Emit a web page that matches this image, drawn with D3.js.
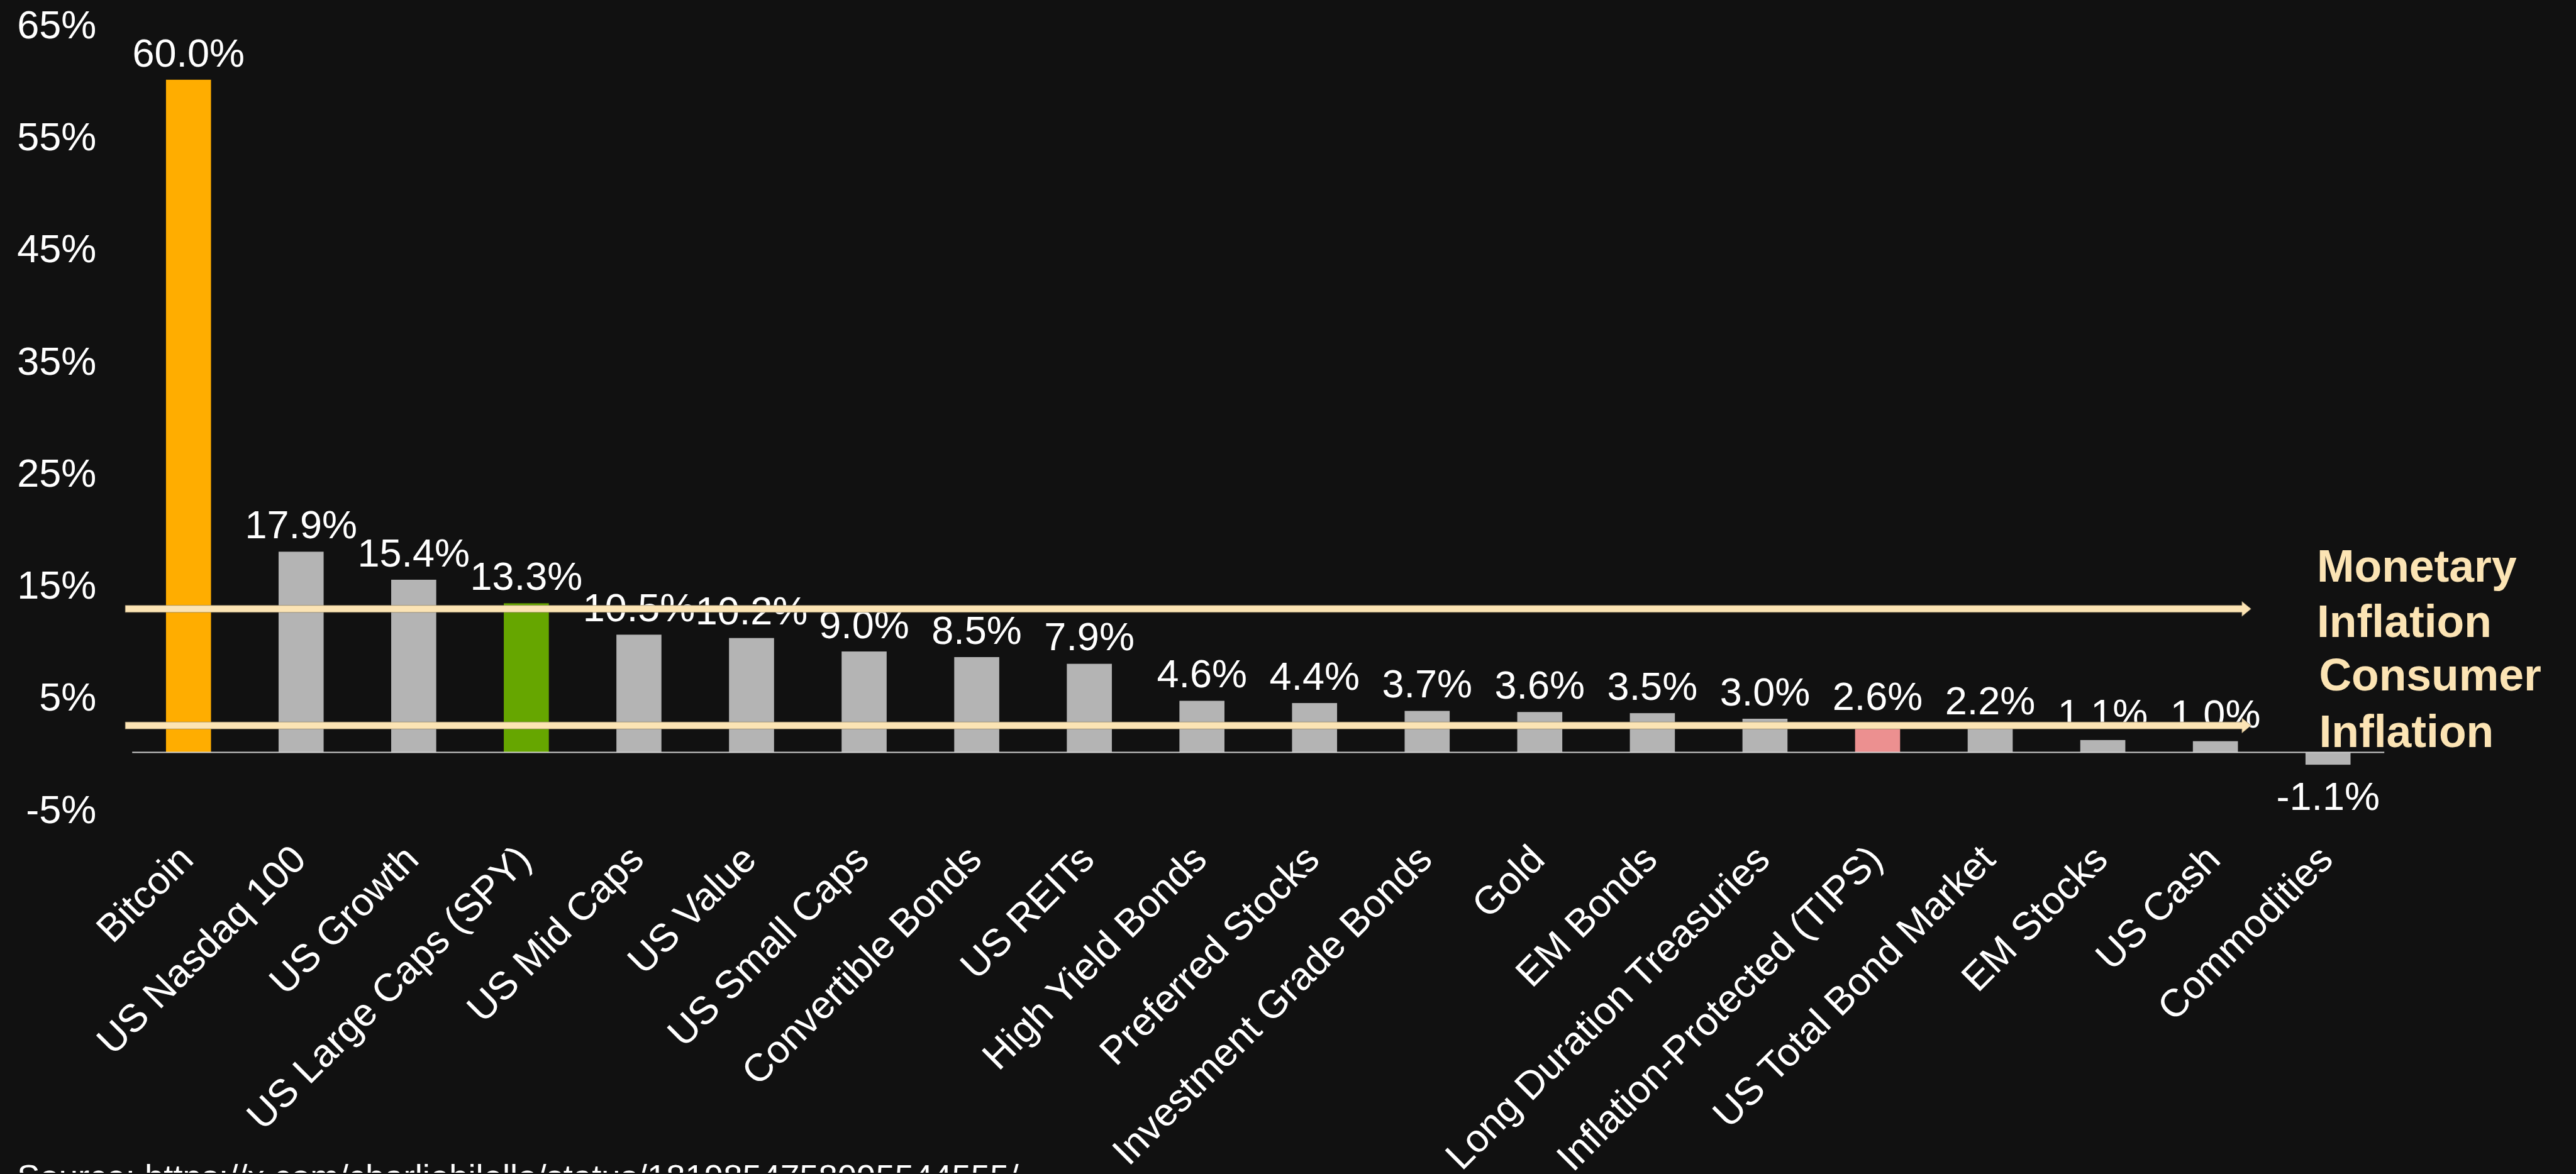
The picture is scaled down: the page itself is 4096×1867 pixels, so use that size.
<!DOCTYPE html>
<html>
<head>
<meta charset="utf-8">
<script src="https://cdn.jsdelivr.net/npm/d3@7"></script>
<style>
  html, body { margin: 0; padding: 0; background: #111111; }
  svg { display: block; }
</style>
</head>
<body>
<div id="chart"></div>
<script>
// ### Data ###
var categories = ["Bitcoin", "US Nasdaq 100", "US Growth", "US Large Caps (SPY)", "US Mid Caps",
                  "US Value", "US Small Caps", "Convertible Bonds", "US REITs", "High Yield Bonds",
                  "Preferred Stocks", "Investment Grade Bonds", "Gold", "EM Bonds", "Long Duration Treasuries",
                  "Inflation-Protected (TIPS)", "US Total Bond Market", "EM Stocks", "US Cash", "Commodities"];
var values = [60.0, 17.9, 15.4, 13.3, 10.5, 10.2, 9.0, 8.5, 7.9, 4.6,
              4.4, 3.7, 3.6, 3.5, 3.0, 2.6, 2.2, 1.1, 1.0, -1.1];
var yTicks = [-5, 5, 15, 25, 35, 45, 55, 65];
var inflationNames = [["Monetary", "Inflation"], ["Consumer", "Inflation"]];
var inflationValues = [12.8, 2.4];
var sourceText = "Source: https://x.com/charliebilello/status/1819854758095544555/";

// ### Layout (reference units, scaled down to the window) ###
var refWidth = 4809, refHeight = 2192, k = 0.851;
var font = "'Liberation Sans', Arial, Helvetica, sans-serif";
var barColors = {"Bitcoin": "#ffad00", "US Large Caps (SPY)": "#66a600", "Inflation-Protected (TIPS)": "#ec9090"};
var greyBar = "#b4b4b4";
var creamColor = "#fce4b4";

var svg = d3.select("#chart").append("svg")
    .attr("width", Math.round(refWidth * k))
    .attr("height", Math.round(refHeight * k));

svg.append("rect")
    .attr("width", "100%")
    .attr("height", "100%")
    .attr("fill", "#111111");

var g = svg.append("g")
    .attr("transform", "scale(" + k + ")");

var x = d3.scaleBand()
    .domain(categories)
    .range([247, 4455])
    .paddingInner(0.6)
    .paddingOuter(0.3);

var y = d3.scaleLinear()
    .domain([-5, 65])
    .range([1510.75, 44.25]);

// Y axis labels
var yAxis = d3.axisLeft(y)
    .tickValues(yTicks)
    .tickSize(0)
    .tickPadding(10)
    .tickFormat(function(d) { return d + "%"; });

var yg = g.append("g")
    .attr("transform", "translate(190,0)")
    .call(yAxis);
yg.select(".domain").remove();
yg.selectAll("text")
    .attr("dy", "0.36em")
    .style("font-family", font)
    .style("font-size", "74px")
    .style("fill", "#ffffff");

// Bars
g.selectAll(".bar")
    .data(values)
    .enter().append("rect")
    .attr("class", "bar")
    .attr("x", function(d, i) { return x(categories[i]); })
    .attr("width", x.bandwidth())
    .attr("y", function(d) { return y(Math.max(0, d)); })
    .attr("height", function(d) { return Math.abs(y(d) - y(0)); })
    .attr("fill", function(d, i) { return barColors[categories[i]] || greyBar; });

// Zero line
g.append("line")
    .attr("x1", x.range()[0])
    .attr("x2", x.range()[1])
    .attr("y1", y(0))
    .attr("y2", y(0))
    .style("stroke", "#d0d0d0")
    .style("stroke-width", 2.5);

// Value labels
g.selectAll(".value-label")
    .data(values)
    .enter().append("text")
    .attr("class", "value-label")
    .attr("x", function(d, i) { return x(categories[i]) + x.bandwidth() / 2; })
    .attr("y", function(d) { return d >= 0 ? y(d) - 25 : y(d) + 84; })
    .attr("text-anchor", "middle")
    .style("font-family", font)
    .style("font-size", "74px")
    .style("fill", "#ffffff")
    .text(function(d) { return d.toFixed(1) + "%"; });

// Category labels
g.selectAll(".cat-label")
    .data(categories)
    .enter().append("text")
    .attr("class", "cat-label")
    .attr("text-anchor", "end")
    .attr("transform", function(d) {
        return "translate(" + (x(d) + x.bandwidth() / 2 + 13) + ",1610) rotate(-45)";
    })
    .style("font-family", font)
    .style("font-size", "73px")
    .style("fill", "#ffffff")
    .text(function(d) { return d; });

// Inflation arrows
var arrowStart = 234, arrowTip = 4206, headLen = 17, lineHalf = 6.5, headHalf = 14;
var arrows = g.selectAll(".inflation")
    .data(inflationValues)
    .enter().append("g")
    .attr("class", "inflation");

arrows.append("path")
    .attr("d", function(d) {
        var yy = y(d);
        return "M" + arrowStart + "," + (yy - lineHalf) +
               "L" + (arrowTip - headLen) + "," + (yy - lineHalf) +
               "L" + (arrowTip - headLen) + "," + (yy - headHalf) +
               "L" + arrowTip + "," + yy +
               "L" + (arrowTip - headLen) + "," + (yy + headHalf) +
               "L" + (arrowTip - headLen) + "," + (yy + lineHalf) +
               "L" + arrowStart + "," + (yy + lineHalf) + "Z";
    })
    .style("fill", creamColor)
    .style("stroke", "#8a7d62")
    .style("stroke-width", 0.8);

// Inflation text
var textOffsets = [[-51, 52], [-65, 40]];
var textX = [4329, 4333];
arrows.each(function(d, i) {
    var grp = d3.select(this);
    inflationNames[i].forEach(function(line, j) {
        grp.append("text")
            .attr("x", textX[i])
            .attr("y", y(d) + textOffsets[i][j])
            .style("font-family", font)
            .style("font-size", "84px")
            .style("font-weight", "bold")
            .style("fill", creamColor)
            .text(line);
    });
});

// Source
g.append("text")
    .attr("x", 32)
    .attr("y", 2221)
    .style("font-family", font)
    .style("font-size", "64px")
    .style("fill", "#ffffff")
    .text(sourceText);
</script>
</body>
</html>
